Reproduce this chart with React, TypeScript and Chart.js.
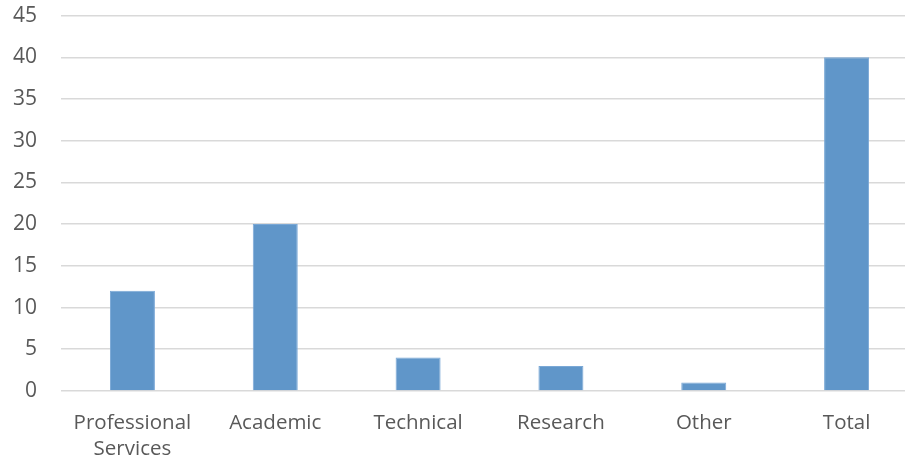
import React, { useEffect, useRef } from "react";
import { Chart, registerables } from "chart.js";

Chart.register(...registerables);

const categories: (string | string[])[] = [["Professional", "Services"], "Academic", "Technical", "Research", "Other", "Total"];
const values: number[] = [12, 20, 4, 3, 1, 40];

export default function App() {
  const ref = useRef<HTMLCanvasElement>(null);
  useEffect(() => {
    if (!ref.current) return;
    const chart = new Chart(ref.current, {
      type: "bar",
      data: {
        labels: categories,
        datasets: [
          {
            data: values,
            backgroundColor: "#6096C9",
            borderColor: "#7AA8D6",
            borderWidth: 1,
            categoryPercentage: 1,
            barPercentage: 0.315,
          },
        ],
      },
      options: {
        animation: false,
        responsive: true,
        maintainAspectRatio: false,
        layout: { padding: { left: 10, top: 0, right: 0, bottom: 0 } },
        plugins: { legend: { display: false }, tooltip: { enabled: false } },
        scales: {
          x: {
            grid: { color: "rgba(0,0,0,0)", drawTicks: true, tickLength: 16, tickColor: "rgba(0,0,0,0)" },
            border: { display: false },
            ticks: {
              color: "#595959",
              font: { family: "'Open Sans'", size: 20.5, lineHeight: 1.27 },
              padding: 3,
              maxRotation: 0,
              autoSkip: false,
            },
          },
          y: {
            min: 0,
            max: 45,
            grid: { color: "#D9D9D9", lineWidth: 1.5, drawTicks: true, tickLength: 21, tickColor: "rgba(0,0,0,0)" },
            border: { display: false },
            ticks: {
              stepSize: 5,
              color: "#595959",
              font: { family: "'Open Sans'", size: 21 },
              padding: 3,
            },
          },
        },
      },
    });
    return () => chart.destroy();
  }, []);
  return (
    <div style={{ position: "fixed", left: 0, top: 0, width: 905, height: 459, overflow: "hidden", background: "#fff" }}>
      <div style={{ position: "absolute", left: 0, top: 0, width: 918, height: 465 }}>
        <canvas ref={ref} />
      </div>
    </div>
  );
}
